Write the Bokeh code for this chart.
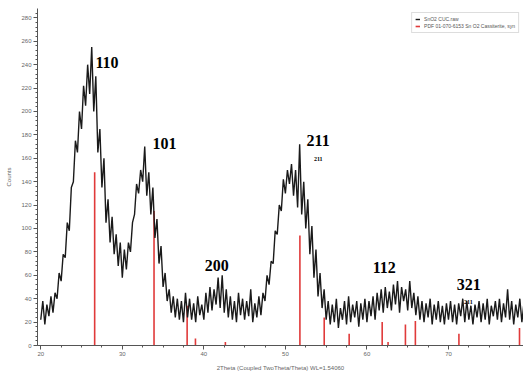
from bokeh.plotting import figure
from bokeh.models import (ColumnDataSource, FixedTicker, Label, Legend, LegendItem,
                          Range1d)
from bokeh.embed import file_html
from bokeh.resources import INLINE

# ---------------- data ----------------
two_theta_start = 20.0
two_theta_step = 0.25
counts = [
    22, 38, 18, 35,   25, 42, 28, 45,   40, 62, 55, 78,   75, 105, 98, 135,
    140, 175, 165, 200,   185, 222, 205, 240,   215, 255, 200, 230,   165, 185, 135, 160,
    105, 125, 88, 110,   78, 95, 68, 88,   58, 82, 65, 88,   80, 105, 112, 138,
    130, 150, 140, 170,   128, 148, 112, 135,   92, 108, 70, 85,   50, 62, 38, 48,
    28, 42, 24, 40,   22, 38, 20, 45,   24, 40, 22, 36,   20, 42, 26, 35,
    22, 45, 28, 50,   30, 48, 35, 58,   32, 60, 28, 48,   24, 42, 22, 38,
    20, 45, 26, 40,   22, 38, 25, 48,   20, 36, 24, 42,   26, 45, 38, 60,
    52, 72, 70, 98,   95, 120, 115, 142,   130, 150, 138, 155,   128, 150, 118, 172,
    112, 140, 100, 125,   78, 102, 58, 82,   42, 62, 32, 48,   22, 38, 18, 35,
    20, 40, 15, 32,   22, 38, 18, 42,   20, 35, 24, 38,   16, 36, 22, 40,
    20, 38, 25, 42,   22, 45, 30, 48,   28, 50, 32, 46,   30, 52, 35, 55,
    28, 50, 38, 48,   30, 55, 32, 45,   26, 42, 22, 38,   20, 36, 24, 40,
    18, 35, 22, 38,   20, 34, 18, 36,   22, 38, 20, 35,   18, 36, 25, 40,
    20, 38, 22, 34,   18, 35, 24, 38,   20, 36, 22, 40,   18, 34, 25, 38,
    22, 40, 20, 36,   24, 48, 22, 38,   18, 35, 24, 40,   20, 36, 18, 34,
]
two_theta = [two_theta_start + i * two_theta_step for i in range(len(counts))]

ref_positions = [26.61, 33.89, 37.95, 38.97, 42.64, 51.78, 54.76, 57.82,
                 61.87, 62.59, 64.72, 65.94, 71.28, 78.71]
ref_heights = [148, 115, 34, 6, 3, 94, 24, 10, 20, 3, 18, 21, 10, 15]

hkl_labels = ["110", "101", "200", "211", "112", "321"]
small_labels = ["211", "211"]

y_ticks = [0, 20, 40, 60, 80, 100, 120, 140, 160, 180, 200, 220, 240, 260, 280]
x_ticks = [20, 30, 40, 50, 60, 70, 80]

series_names = ["SnO2 CUC.raw", "PDF 01-070-6153 Sn O2 Cassiterite, syn"]

# ---------------- figure ----------------
p = figure(width=523, height=376, output_backend="svg", toolbar_location=None,
           x_range=Range1d(19.6, 79.2), y_range=Range1d(0, 288),
           min_border_left=37, min_border_right=0, min_border_top=8,
           min_border_bottom=31)
p.outline_line_color = None
p.xgrid.visible = False
p.ygrid.visible = False
p.background_fill_color = "white"

src = ColumnDataSource(dict(x=two_theta, y=counts))
ref_src = ColumnDataSource(dict(x=ref_positions, top=ref_heights,
                                bottom=[0] * len(ref_positions)))
ref_r = p.segment(x0="x", y0="bottom", x1="x", y1="top", source=ref_src,
                  line_color="#e03a3a", line_width=1.6)
data_r = p.line("x", "y", source=src, line_color="#1a1a1a", line_width=1.4)

# axes styling
for ax in (p.xaxis[0], p.yaxis[0]):
    ax.axis_line_color = "#555555"
    ax.major_tick_line_color = "#555555"
    ax.minor_tick_line_color = "#555555"
    ax.major_tick_in = 0
    ax.major_tick_out = 4
    ax.minor_tick_in = 0
    ax.minor_tick_out = 2
    ax.major_label_text_font = "Liberation Sans"
    ax.major_label_text_font_size = "6px"
    ax.major_label_text_color = "#666666"
    ax.axis_label_text_font = "Liberation Sans"
    ax.axis_label_text_font_size = "6px"
    ax.axis_label_text_font_style = "normal"
    ax.axis_label_text_color = "#666666"
    ax.major_label_standoff = 2
    ax.axis_label_standoff = 6

p.xaxis[0].ticker = FixedTicker(ticks=x_ticks,
                                minor_ticks=[20 + 2.5 * i for i in range(25)])
p.yaxis[0].ticker = FixedTicker(ticks=y_ticks,
                                minor_ticks=[4 * i for i in range(72)])
p.xaxis[0].axis_label = "2Theta (Coupled TwoTheta/Theta) WL=1.54060"
p.yaxis[0].axis_label = "Counts"

# hkl labels
label_pos = [(26.7, 242), (33.7, 173), (40.1, 68), (52.6, 175), (60.7, 67), (71.0, 52)]
for txt, (lx, ly) in zip(hkl_labels, label_pos):
    p.add_layout(Label(x=lx, y=ly, text=txt, text_font="Liberation Serif",
                       text_font_style="bold", text_font_size="16px",
                       text_color="black", text_baseline="middle",
                       text_align="left"))
small_pos = [(53.5, 159), (71.9, 37)]
for txt, (lx, ly) in zip(small_labels, small_pos):
    p.add_layout(Label(x=lx, y=ly, text=txt, text_font="Liberation Serif",
                       text_font_style="bold", text_font_size="6px",
                       text_color="black", text_baseline="middle",
                       text_align="left"))

legend = Legend(items=[LegendItem(label=series_names[0], renderers=[data_r]),
                       LegendItem(label=series_names[1], renderers=[ref_r])],
                location="top_right")
legend.label_text_font = "Liberation Sans"
legend.label_text_font_size = "5px"
legend.label_text_color = "#555555"
legend.label_height = 6
legend.glyph_height = 6
legend.glyph_width = 5
legend.spacing = 1
legend.padding = 3
legend.margin = 4
legend.border_line_color = "#bbbbbb"
legend.border_line_width = 1
legend.label_standoff = 4
p.add_layout(legend)

open("out.html", "w").write(file_html(p, INLINE))
